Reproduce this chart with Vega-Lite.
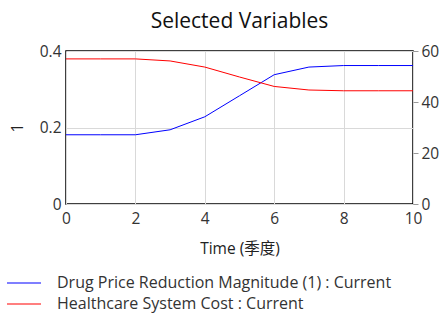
{
  "$schema": "https://vega.github.io/schema/vega-lite/v6.json",
  "autosize": {"type": "none"},
  "width": 347,
  "height": 153,
  "padding": {"left": 66, "top": 51, "right": 26, "bottom": 109},
  "background": "white",
  "title": {"text": "Selected Variables", "fontSize": 21, "font": "Open Sans", "fontWeight": "normal", "color": "#111111", "offset": 12, "anchor": "middle"},
  "config": {
    "view": {"stroke": "black", "strokeWidth": 1.5},
    "font": "Open Sans, Noto Sans CJK SC",
    "axis": {"labelFont": "Open Sans", "labelFontSize": 15.5, "labelColor": "#333333", "titleFont": "Open Sans, Noto Sans CJK SC", "titleFontSize": 15.5, "titleFontWeight": "normal", "titleColor": "#222222", "domain": false, "gridColor": "#d9d9d9", "gridWidth": 1}
  },
  "data": {"values": [
    {"t": 0, "drug": 0.181, "cost": 56.9},
    {"t": 1, "drug": 0.181, "cost": 56.9},
    {"t": 2, "drug": 0.181, "cost": 56.9},
    {"t": 3, "drug": 0.194, "cost": 56.1},
    {"t": 4, "drug": 0.228, "cost": 53.7},
    {"t": 5, "drug": 0.283, "cost": 49.8},
    {"t": 6, "drug": 0.338, "cost": 46.1},
    {"t": 7, "drug": 0.358, "cost": 44.7},
    {"t": 8, "drug": 0.362, "cost": 44.4},
    {"t": 9, "drug": 0.362, "cost": 44.4},
    {"t": 10, "drug": 0.362, "cost": 44.4}
  ]},
  "encoding": {
    "x": {"field": "t", "type": "quantitative", "scale": {"domain": [0, 10], "nice": false}, "axis": {"values": [0, 2, 4, 6, 8, 10], "ticks": false, "labelPadding": 7, "title": "Time (季度)", "titlePadding": 15, "labelFlush": false}}
  },
  "layer": [
    {
      "mark": {"type": "line", "strokeWidth": 1},
      "encoding": {
        "y": {"field": "drug", "type": "quantitative", "scale": {"domain": [0, 0.4], "nice": false}, "axis": {"orient": "left", "values": [0, 0.2, 0.4], "format": "~g", "ticks": false, "labelPadding": 5, "title": "1", "titlePadding": 14, "grid": true}},
        "color": {"datum": "Drug Price Reduction Magnitude (1) : Current", "type": "nominal", "scale": {"domain": ["Drug Price Reduction Magnitude (1) : Current", "Healthcare System Cost : Current"], "range": ["#0000ff", "#ff0000"]},
          "legend": {"orient": "none", "legendX": -50, "legendY": 224, "title": null, "symbolType": "M-4.25,0H4.25", "symbolSize": 64, "symbolStrokeWidth": 1.2, "labelFont": "Open Sans", "labelFontSize": 16, "labelColor": "#333333", "labelOffset": 25, "labelLimit": 0, "rowPadding": 5}}
      }
    },
    {
      "mark": {"type": "line", "strokeWidth": 1},
      "encoding": {
        "y": {"field": "cost", "type": "quantitative", "scale": {"domain": [0, 60], "nice": false}, "axis": {"orient": "right", "values": [0, 20, 40, 60], "ticks": true, "tickSize": 5, "tickColor": "#999999", "labelPadding": 3, "title": null, "grid": false}},
        "color": {"datum": "Healthcare System Cost : Current", "type": "nominal"}
      }
    }
  ],
  "resolve": {"scale": {"y": "independent"}}
}
